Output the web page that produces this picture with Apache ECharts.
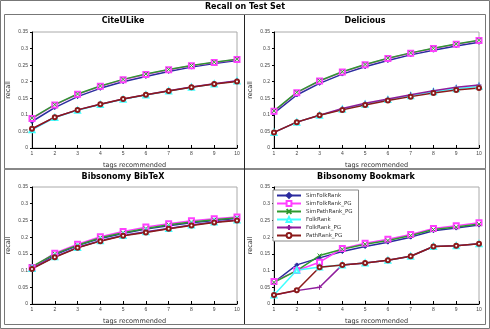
<!DOCTYPE html>
<html>
<head>
<meta charset="utf-8">
<script src="https://cdn.jsdelivr.net/npm/echarts@6/dist/echarts.min.js"></script>
<style>
html, body { margin: 0; padding: 0; background: #fff; }
#chart { width: 490px; height: 329px; }
</style>
</head>
<body>
<div id="chart"></div>
<script>
// x values (tags recommended)
var tags = [1, 2, 3, 4, 5, 6, 7, 8, 9, 10];
var methods = ['SimFolkRank', 'SimFolkRank_PG', 'SimPathRank_PG', 'FolkRank', 'FolkRank_PG', 'PathRank_PG'];
var panelTitles = ['CiteULike', 'Delicious', 'Bibsonomy BibTeX', 'Bibsonomy Bookmark'];
var yTicks = [0, 0.05, 0.1, 0.15, 0.2, 0.25, 0.3, 0.35];

// CiteULike
var cite_simFolk    = [0.080, 0.122, 0.155, 0.180, 0.200, 0.216, 0.231, 0.244, 0.255, 0.264];
var cite_simFolkPG  = [0.089, 0.130, 0.162, 0.186, 0.206, 0.222, 0.236, 0.248, 0.258, 0.267];
var cite_simPathPG  = [0.090, 0.131, 0.163, 0.187, 0.207, 0.223, 0.237, 0.249, 0.259, 0.268];
var cite_folk       = [0.055, 0.092, 0.114, 0.131, 0.147, 0.160, 0.172, 0.183, 0.193, 0.202];
var cite_folkPG     = [0.057, 0.093, 0.115, 0.132, 0.148, 0.161, 0.173, 0.184, 0.194, 0.203];
var cite_pathPG     = [0.058, 0.093, 0.115, 0.132, 0.148, 0.161, 0.172, 0.183, 0.193, 0.201];

// Delicious
var del_simFolk     = [0.105, 0.160, 0.195, 0.223, 0.245, 0.264, 0.281, 0.295, 0.308, 0.319];
var del_simFolkPG   = [0.111, 0.167, 0.202, 0.229, 0.251, 0.270, 0.286, 0.300, 0.313, 0.324];
var del_simPathPG   = [0.112, 0.168, 0.203, 0.230, 0.252, 0.271, 0.287, 0.301, 0.314, 0.325];
var del_folk        = [0.047, 0.078, 0.099, 0.117, 0.132, 0.146, 0.158, 0.170, 0.179, 0.186];
var del_folkPG      = [0.047, 0.078, 0.099, 0.119, 0.135, 0.148, 0.161, 0.173, 0.183, 0.190];
var del_pathPG      = [0.047, 0.078, 0.099, 0.115, 0.130, 0.143, 0.155, 0.166, 0.175, 0.181];

// Bibsonomy BibTeX
var bib_simFolk     = [0.108, 0.147, 0.175, 0.196, 0.211, 0.224, 0.234, 0.243, 0.250, 0.256];
var bib_simFolkPG   = [0.109, 0.152, 0.179, 0.201, 0.217, 0.230, 0.240, 0.249, 0.255, 0.260];
var bib_simPathPG   = [0.112, 0.150, 0.176, 0.198, 0.213, 0.226, 0.237, 0.245, 0.252, 0.258];
var bib_folk        = [0.106, 0.141, 0.169, 0.189, 0.205, 0.216, 0.226, 0.236, 0.245, 0.251];
var bib_folkPG      = [0.107, 0.141, 0.169, 0.189, 0.205, 0.216, 0.226, 0.236, 0.245, 0.251];
var bib_pathPG      = [0.105, 0.140, 0.168, 0.188, 0.204, 0.214, 0.225, 0.235, 0.244, 0.250];

// Bibsonomy Bookmark
var bm_simFolk      = [0.065, 0.117, 0.138, 0.157, 0.172, 0.185, 0.200, 0.219, 0.227, 0.236];
var bm_simFolkPG    = [0.067, 0.100, 0.125, 0.166, 0.182, 0.194, 0.208, 0.226, 0.234, 0.243];
var bm_simPathPG    = [0.065, 0.100, 0.145, 0.164, 0.179, 0.190, 0.205, 0.223, 0.230, 0.239];
var bm_folk         = [0.027, 0.101, 0.111, 0.117, 0.123, 0.131, 0.143, 0.172, 0.174, 0.180];
var bm_folkPG       = [0.027, 0.040, 0.050, 0.117, 0.123, 0.131, 0.143, 0.172, 0.174, 0.180];
var bm_pathPG       = [0.027, 0.041, 0.110, 0.117, 0.123, 0.131, 0.143, 0.172, 0.174, 0.180];

var panels = [
  [cite_simFolk, cite_simFolkPG, cite_simPathPG, cite_folk, cite_folkPG, cite_pathPG],
  [del_simFolk, del_simFolkPG, del_simPathPG, del_folk, del_folkPG, del_pathPG],
  [bib_simFolk, bib_simFolkPG, bib_simPathPG, bib_folk, bib_folkPG, bib_pathPG],
  [bm_simFolk, bm_simFolkPG, bm_simPathPG, bm_folk, bm_folkPG, bm_pathPG]
];

// 每条线的样式
var styles = [
  { color: '#2b2b9e', symbol: 'diamond', size: 4 },
  { color: '#ff40ff', symbol: 'emptyRect', size: 5 },
  { color: '#2e9a2e', symbol: 'path://M0,0L10,10M10,0L0,10', size: 4 },
  { color: '#40ffff', symbol: 'emptyTriangle', size: 5 },
  { color: '#8e1c9c', symbol: 'path://M5,0L5,10M0,5L10,5', size: 5 },
  { color: '#8b1a1a', symbol: 'emptyCircle', size: 4 }
];

var grids = [
  { left: 32, top: 32, width: 205, height: 116 },
  { left: 274, top: 32, width: 205, height: 116 },
  { left: 32, top: 187, width: 205, height: 117 },
  { left: 274, top: 187, width: 205, height: 117 }
];
var titleX = [123, 365, 123, 366];
var titleY = [17, 17, 173, 173];

var myChart = echarts.init(document.getElementById('chart'));
var option = {
  backgroundColor: '#fff',
  animation: false,
  title: [{
    text: 'Recall on Test Set', left: 245, top: 3, textAlign: 'center', padding: 0,
    textStyle: { fontSize: 8, fontWeight: 'bold', color: '#000', fontFamily: 'DejaVu Sans' }
  }],
  legend: {
    data: methods,
    orient: 'vertical',
    left: 273, top: 190,
    itemWidth: 24, itemHeight: 6, itemGap: 1,
    padding: [2, 6, 2, 3],
    backgroundColor: '#fff',
    borderColor: '#888', borderWidth: 1, borderRadius: 0,
    textStyle: { fontSize: 5.5, lineHeight: 7, color: '#333', fontFamily: 'DejaVu Sans' }
  },
  grid: [], xAxis: [], yAxis: [], series: [],
  graphic: [
    { type: 'rect', shape: { x: 0.5, y: 0.5, width: 489, height: 328 }, style: { fill: null, stroke: '#777', lineWidth: 1 }, z: -1 },
    { type: 'rect', shape: { x: 4.5, y: 14.5, width: 481, height: 310 }, style: { fill: null, stroke: '#777', lineWidth: 1 }, z: -1 },
    { type: 'line', shape: { x1: 4, y1: 169, x2: 486, y2: 169 }, style: { stroke: '#888', lineWidth: 2 }, z: -1 },
    { type: 'line', shape: { x1: 244.5, y1: 15, x2: 244.5, y2: 324 }, style: { stroke: '#222', lineWidth: 1 }, z: -1 }
  ]
};

for (var p = 0; p < 4; p++) {
  option.title.push({
    text: panelTitles[p], left: titleX[p], top: titleY[p], textAlign: 'center', padding: 0,
    textStyle: { fontSize: 8, fontWeight: 'bold', color: '#000', fontFamily: 'DejaVu Sans' }
  });
  option.grid.push({
    left: grids[p].left, top: grids[p].top, width: grids[p].width, height: grids[p].height,
    show: true, borderColor: '#aaa', borderWidth: 1, backgroundColor: '#fff'
  });
  option.xAxis.push({
    type: 'value', gridIndex: p, min: 1, max: 10, interval: 1,
    name: 'tags recommended', nameLocation: 'middle', nameGap: 14,
    nameTextStyle: { fontSize: 6.5, color: '#333', fontFamily: 'DejaVu Sans' },
    axisLine: { lineStyle: { color: '#000', width: 1 } },
    axisTick: { inside: true, length: 3, lineStyle: { color: '#000' } },
    axisLabel: { fontSize: 5, color: '#444', margin: 3 },
    splitLine: { show: false }
  });
  option.yAxis.push({
    type: 'value', gridIndex: p, min: yTicks[0], max: yTicks[yTicks.length - 1], interval: 0.05,
    name: 'recall', nameLocation: 'middle', nameGap: 20,
    nameTextStyle: { fontSize: 6.5, color: '#333', fontFamily: 'DejaVu Sans' },
    axisLine: { show: true, lineStyle: { color: '#000', width: 1 } },
    axisTick: { show: true, length: 2, lineStyle: { color: '#000' } },
    axisLabel: { fontSize: 5, color: '#444', margin: 4 },
    splitLine: { show: false }
  });
  for (var s = 0; s < methods.length; s++) {
    option.series.push({
      name: methods[s], type: 'line', xAxisIndex: p, yAxisIndex: p,
      data: tags.map(function (t, i) { return [t, panels[p][s][i]]; }),
      symbol: styles[s].symbol, symbolSize: styles[s].size,
      lineStyle: { color: styles[s].color, width: 1.5 },
      itemStyle: { color: styles[s].color, borderColor: styles[s].color, borderWidth: 1 }
    });
  }
}

option && myChart.setOption(option);
</script>
</body>
</html>
